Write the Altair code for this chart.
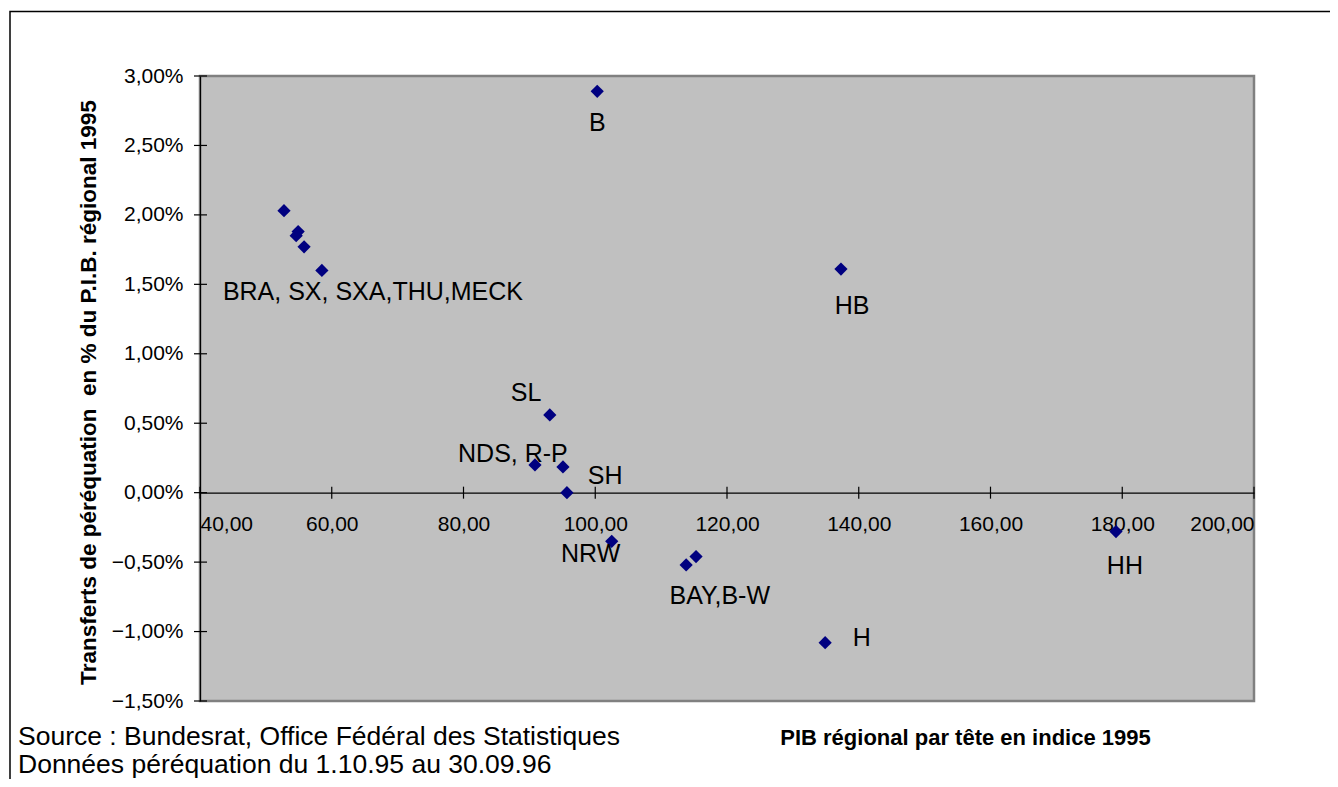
import altair as alt
import pandas as pd

# --- data ---
pib_index = [100.3, 52.75, 54.9, 54.6, 55.8, 58.5, 137.3, 93.1, 90.85, 95.1, 95.7, 102.5, 113.8, 115.3, 134.9, 179.05]
transfer_pct = [2.89, 2.03, 1.88, 1.85, 1.77, 1.60, 1.61, 0.56, 0.20, 0.185, 0.0, -0.35, -0.52, -0.46, -1.08, -0.28]

label_text = ["B", "BRA, SX, SXA,THU,MECK", "HB", "SL", "NDS, R-P", "SH", "NRW", "BAY,B-W", "H", "HH"]
label_x = [100.3, 66.25, 139.0, 89.5, 87.5, 101.5, 99.3, 118.9, 140.45, 180.4]
label_y = [2.66, 1.445, 1.345, 0.72, 0.28, 0.12, -0.44, -0.745, -1.045, -0.525]

x_ticks = [40, 60, 80, 100, 120, 140, 160, 180, 200]
y_ticks = [-1.5, -1.0, -0.5, 0.0, 0.5, 1.0, 1.5, 2.0, 2.5, 3.0]

x_title = "PIB régional par tête en indice 1995"
y_title = "Transferts de péréquation\u00a0 en % du P.I.B. régional 1995"
source_lines = ["Source : Bundesrat, Office Fédéral des Statistiques",
                "Données péréquation du 1.10.95 au 30.09.96"]

W, H = 1054, 625
Y0 = H * 3.0 / 4.5  # pixel row of the 0 % line inside the plot
FONT = "Liberation Sans, Arial, sans-serif"

pts = pd.DataFrame({"x": pib_index, "y": transfer_pct})
lbl = pd.DataFrame({"x": label_x, "y": label_y, "t": label_text})
xt = pd.DataFrame({"v": x_ticks})
yt = pd.DataFrame({"v": y_ticks})
one = pd.DataFrame({"a": [0]})

xscale = alt.Scale(domain=[40, 200], nice=False, zero=False)
yscale = alt.Scale(domain=[-1.5, 3], nice=False, zero=False)

x_axis = alt.Axis(
    values=x_ticks, offset=-(H - Y0), domainColor="black", domainWidth=1.2,
    ticks=False, tickSize=0, grid=False, labelFontSize=21, labelFont=FONT,
    labelColor="black", labelPadding=32, labelBaseline="middle",
    labelExpr="replace(format(datum.value, '.2f'), '.', ',')",
    title=x_title, titleFont=FONT, titleFontSize=22, titleFontWeight="bold",
    titleColor="black", titleX=765, titleY=245, titleAlign="center", titleBaseline="middle",
)
y_axis = alt.Axis(
    values=y_ticks, domainColor="black", domainWidth=1.2, ticks=False, tickSize=0,
    grid=False, labelFontSize=21, labelFont=FONT, labelColor="black", labelPadding=17,
    labelExpr="replace(format(datum.value, '.2f'), '.', ',') + '%'",
    title=y_title, titleFont=FONT, titleFontSize=22.5, titleFontWeight="bold",
    titleColor="black", titleX=-112, titleY=316, titleAngle=270,
    titleAlign="center", titleBaseline="middle",
)

points = alt.Chart(pts).mark_point(shape="diamond", filled=True, size=175, color="#000080", opacity=1).encode(
    x=alt.X("x:Q", scale=xscale, axis=x_axis),
    y=alt.Y("y:Q", scale=yscale, axis=y_axis),
)

labels = alt.Chart(lbl).mark_text(fontSize=25, font=FONT, color="black", align="center", baseline="middle").encode(
    x=alt.X("x:Q", scale=xscale),
    y=alt.Y("y:Q", scale=yscale),
    text="t:N",
)

xticks = alt.Chart(xt).mark_rule(color="black", strokeWidth=1.2).encode(
    x=alt.X("v:Q", scale=xscale),
    y=alt.value(Y0 - 6), y2=alt.value(Y0 + 6),
)
yticks = alt.Chart(yt).mark_rule(color="black", strokeWidth=1.2).encode(
    y=alt.Y("v:Q", scale=yscale),
    x=alt.value(-6), x2=alt.value(7),
)

frame = alt.Chart(one).mark_rect(fillOpacity=0, stroke="black", strokeWidth=1.5).encode(
    x=alt.value(-190), x2=alt.value(W + 200), y=alt.value(-64.5), y2=alt.value(H + 200),
)

src1 = alt.Chart(one).mark_text(fontSize=26.5, font=FONT, color="black", align="left", baseline="alphabetic").encode(
    x=alt.value(-182), y=alt.value(669), text=alt.value(source_lines[0]),
)
src2 = alt.Chart(one).mark_text(fontSize=26.5, font=FONT, color="black", align="left", baseline="alphabetic").encode(
    x=alt.value(-182), y=alt.value(697), text=alt.value(source_lines[1]),
)

chart = alt.layer(frame, points, xticks, yticks, labels, src1, src2).properties(
    width=W, height=H,
    autosize=alt.AutoSizeParams(type="none"),
    padding={"left": 192, "top": 68, "right": 76, "bottom": 78},
    background="white",
).configure_view(fill="#C0C0C0", stroke="#808080", strokeWidth=2.5)

chart.save("out.html", embed_options={"renderer": "svg", "actions": False})
